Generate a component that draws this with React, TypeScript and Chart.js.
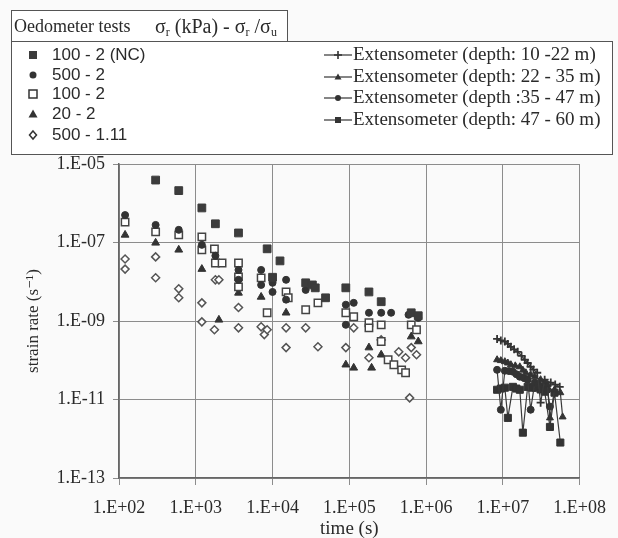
import React, { useEffect, useRef } from "react";
import { Chart, registerables } from "chart.js";

Chart.register(...registerables);

// ---------- tick values ----------
const xTickValues = [1e2, 1e3, 1e4, 1e5, 1e6, 1e7, 1e8];
const yTickValues = [1e-13, 1e-11, 1e-9, 1e-7, 1e-5];

// ---------- oedometer tests: [time (s), strain rate (1/s)] ----------
const oedo100_2NC: [number, number][] = [
  [3.0e2, 3.9e-6], [6.0e2, 2.1e-6], [1.2e3, 7.6e-7], [1.8e3, 3.0e-7], [3.6e3, 1.75e-7],
  [8.5e3, 6.9e-8], [1.25e4, 3.4e-8], [1.0e4, 1.3e-8], [2.7e4, 9.4e-9], [3.3e4, 8.3e-9],
  [3.6e4, 7.0e-9], [4.9e4, 3.9e-9], [9.0e4, 7.0e-9], [1.8e5, 5.5e-9], [2.6e5, 3.1e-9],
  [6.4e5, 1.62e-9], [7.9e5, 1.36e-9],
];
const oedo500_2: [number, number][] = [
  [1.2e2, 5.0e-7], [3.0e2, 2.8e-7], [6.0e2, 2.1e-7], [1.2e3, 8.7e-8], [1.8e3, 4.6e-8],
  [3.6e3, 2.0e-8], [3.6e3, 1.12e-8], [7.1e3, 2.0e-8], [7.1e3, 8.3e-9], [1.0e4, 9.4e-9],
  [1.0e4, 5.5e-9], [1.5e4, 1.12e-8], [1.5e4, 3.5e-9], [2.7e4, 6.2e-9], [9.0e4, 2.6e-9],
  [9.0e4, 8.0e-10], [1.14e5, 2.9e-9], [1.8e5, 1.62e-9], [2.6e5, 1.62e-9], [3.5e5, 1.62e-9],
  [5.9e5, 1.44e-9], [7.9e5, 1.2e-9],
];
const oedo100_2: [number, number][] = [
  [1.2e2, 3.3e-7], [3.0e2, 1.86e-7], [6.0e2, 1.56e-7], [1.2e3, 1.39e-7], [1.2e3, 6.5e-8],
  [1.75e3, 6.9e-8], [1.8e3, 3.0e-8], [2.2e3, 3.0e-8], [3.6e3, 3.0e-8], [3.6e3, 1.33e-8],
  [3.6e3, 7.4e-9], [7.1e3, 1.26e-8], [8.5e3, 1.62e-9], [1.5e4, 5.5e-9], [1.6e4, 3.9e-9],
  [2.7e4, 1.93e-9], [3.9e4, 2.9e-9], [9.0e4, 1.62e-9], [1.14e5, 1.28e-9], [1.8e5, 9.0e-10],
  [1.8e5, 6.7e-10], [2.6e5, 8.0e-10], [2.6e5, 3.0e-10], [3.2e5, 1.03e-10], [3.8e5, 7.7e-11],
  [4.8e5, 5.7e-11], [5.4e5, 4.8e-11], [6.4e5, 8.0e-10], [7.5e5, 6.0e-10],
];
const oedo20_2: [number, number][] = [
  [1.2e2, 1.56e-7], [3.0e2, 9.8e-8], [6.0e2, 6.5e-8], [1.2e3, 2.1e-8], [2.0e3, 1.07e-9],
  [3.6e3, 5.2e-9], [7.1e3, 4.1e-9], [1.5e4, 1.62e-9], [9.0e4, 7.7e-11], [1.14e5, 6.4e-11],
  [1.8e5, 2.1e-10], [1.95e5, 6.4e-11], [2.6e5, 1.38e-10], [6.4e5, 4.0e-10], [7.9e5, 3.0e-10],
];
const oedo500_111: [number, number][] = [
  [1.2e2, 3.8e-8], [1.2e2, 2.1e-8], [3.0e2, 4.3e-8], [3.0e2, 1.26e-8], [6.0e2, 6.6e-9],
  [6.0e2, 3.9e-9], [1.2e3, 2.9e-9], [1.2e3, 9.5e-10], [1.8e3, 1.12e-8], [2.0e3, 1.12e-8],
  [1.75e3, 6.0e-10], [3.6e3, 2.2e-9], [3.6e3, 6.7e-10], [7.1e3, 7.1e-10], [7.8e3, 4.5e-10],
  [8.5e3, 6.0e-10], [1.5e4, 6.7e-10], [1.5e4, 2.1e-10], [2.7e4, 6.7e-10], [3.9e4, 2.2e-10],
  [9.0e4, 2.1e-10], [1.14e5, 6.7e-10], [1.8e5, 1.16e-10], [2.6e5, 3.3e-10], [4.4e5, 1.64e-10],
  [5.4e5, 1.16e-10], [6.4e5, 2.1e-10], [7.5e5, 1.38e-10], [6.1e5, 1.1e-11],
];

// ---------- extensometers ----------
const ext10_22: [number, number][] = [
  [8.4e6, 3.5e-10], [9.4e6, 3.2e-10], [1.06e7, 3.0e-10], [1.16e7, 2.6e-10], [1.27e7, 2.2e-10],
  [1.4e7, 1.9e-10], [1.56e7, 1.64e-10], [1.75e7, 1.3e-10], [1.93e7, 1.03e-10], [2.1e7, 8.5e-11],
  [2.3e7, 6.8e-11], [2.5e7, 5.8e-11], [2.8e7, 4.8e-11], [3.1e7, 8.3e-12], [3.5e7, 3.2e-11],
  [4.2e7, 2.7e-11], [4.8e7, 2.4e-11], [5.5e7, 2.1e-11],
];
const ext22_35: [number, number][] = [
  [8.4e6, 1.03e-10], [9.4e6, 9.8e-11], [1.06e7, 9.2e-11], [1.16e7, 8.5e-11], [1.27e7, 7.7e-11],
  [1.45e7, 7.2e-11], [1.66e7, 6.8e-11], [1.82e7, 5.6e-11], [1.99e7, 4.8e-11], [2.3e7, 4.3e-11],
  [2.6e7, 3.8e-11], [3.1e7, 3.2e-11], [3.5e7, 2.7e-11], [3.8e7, 2.4e-11], [4.1e7, 3.4e-12],
  [4.7e7, 1.77e-11], [5.6e7, 1.49e-11], [6.0e7, 3.6e-12],
];
const ext35_47: [number, number][] = [
  [8.4e6, 5.7e-11], [9.4e6, 5.5e-12], [1.06e7, 5.4e-11], [1.2e7, 5.3e-11], [1.35e7, 5.1e-11],
  [1.5e7, 4.4e-11], [1.66e7, 3.8e-11], [1.9e7, 3.5e-11], [2.1e7, 3.2e-11], [2.3e7, 5.5e-12],
  [2.6e7, 2.7e-11], [2.9e7, 2.4e-11], [3.1e7, 2.1e-11], [3.5e7, 1.9e-11], [3.8e7, 1.77e-11],
  [4.1e7, 6.6e-12],
];
const ext47_60: [number, number][] = [
  [8.4e6, 1.77e-11], [9.4e6, 1.9e-11], [1.06e7, 2.0e-11], [1.16e7, 3.4e-12], [1.35e7, 2.1e-11],
  [1.5e7, 1.9e-11], [1.66e7, 1.77e-11], [1.82e7, 1.43e-12], [2.1e7, 2.1e-11], [2.4e7, 2.0e-11],
  [2.7e7, 2.0e-11], [3.1e7, 1.8e-11], [3.5e7, 1.58e-11], [4.1e7, 2.0e-12], [4.7e7, 1.49e-11],
  [5.6e7, 8.0e-13],
];

const oedoLabels = ["100 - 2 (NC)", "500 - 2", "100 - 2", "20 - 2", "500 - 1.11"];
const extLabels = [
  "Extensometer (depth: 10 -22 m)",
  "Extensometer (depth: 22 - 35 m)",
  "Extensometer (depth :35 - 47 m)",
  "Extensometer (depth: 47 - 60 m)",
];

const SERIF = "'Liberation Serif', 'Times New Roman', 'DejaVu Serif', serif";
const SANS = "'Liberation Sans', Arial, sans-serif";
const INK = "#2a2a2a";
const BG = "#fafafa";

function fmtSci(v: number): string {
  const e = Math.round(Math.log10(v));
  const s = e < 0 ? "-" : "+";
  return "1.E" + s + String(Math.abs(e)).padStart(2, "0");
}

const toXY = (arr: [number, number][]) => arr.map(([x, y]) => ({ x, y }));

function LegendMarker({ kind }: { kind: string }) {
  const c = "#333";
  let shape: React.ReactNode = null;
  if (kind === "rect") shape = <rect x={3} y={3} width={8} height={8} fill="#3c3c3c" />;
  if (kind === "circle") shape = <circle cx={7} cy={7} r={3.5} fill={c} />;
  if (kind === "openRect") shape = <rect x={3} y={3} width={8} height={8} fill="#fff" stroke={c} strokeWidth={1.5} />;
  if (kind === "triangle") shape = <polygon points="7,2.5 11.5,10.5 2.5,10.5" fill={c} />;
  if (kind === "diamond") shape = <polygon points="7,3 10.5,7 7,11 3.5,7" fill="#fff" stroke={c} strokeWidth={1.5} />;
  return (
    <svg width={14} height={14} style={{ position: "absolute", left: -7, top: -7 }}>
      {shape}
    </svg>
  );
}

function ExtMarker({ kind }: { kind: string }) {
  const c = "#333";
  let shape: React.ReactNode = null;
  if (kind === "cross") shape = <path d="M12,8 L20,8 M16,4 L16,12" stroke={c} strokeWidth={1.6} />;
  if (kind === "triangle") shape = <polygon points="16,4.5 19.5,10.5 12.5,10.5" fill={c} />;
  if (kind === "circle") shape = <circle cx={16} cy={8} r={3} fill={c} />;
  if (kind === "rect") shape = <rect x={13} y={5} width={6} height={6} fill={c} />;
  return (
    <svg width={32} height={16} style={{ position: "absolute", left: 0, top: -8 }}>
      <line x1={2} y1={8} x2={30} y2={8} stroke={c} strokeWidth={1.2} />
      {shape}
    </svg>
  );
}

export default function App() {
  const canvasRef = useRef<HTMLCanvasElement | null>(null);

  useEffect(() => {
    const canvas = canvasRef.current;
    if (!canvas) return;
    const pt = (style: string, radius: number, fill: string, stroke: string, bw: number) => ({
      pointStyle: style,
      pointRadius: radius,
      pointBackgroundColor: fill,
      pointBorderColor: stroke,
      pointBorderWidth: bw,
      backgroundColor: fill,
      borderColor: stroke,
      showLine: false,
    });
    const extStyle = (style: string, radius: number) => ({
      pointStyle: style,
      pointRadius: radius,
      pointBackgroundColor: "#333",
      pointBorderColor: "#333",
      pointBorderWidth: style === "cross" ? 1.8 : 1,
      borderColor: "#3a3a3a",
      borderWidth: 1.2,
      showLine: true,
      tension: 0,
    });

    const chart = new Chart(canvas, {
      type: "scatter",
      data: {
        datasets: [
          { label: extLabels[0], data: toXY(ext10_22), ...extStyle("cross", 4) },
          { label: extLabels[1], data: toXY(ext22_35), ...extStyle("triangle", 4) },
          { label: extLabels[2], data: toXY(ext35_47), ...extStyle("circle", 3.5) },
          { label: extLabels[3], data: toXY(ext47_60), ...extStyle("rect", 5) },
          { label: oedoLabels[0], data: toXY(oedo100_2NC), ...pt("rect", 5.5, "#3c3c3c", "#3c3c3c", 1) },
          { label: oedoLabels[1], data: toXY(oedo500_2), ...pt("circle", 3.5, "#333", "#333", 1) },
          { label: oedoLabels[2], data: toXY(oedo100_2), ...pt("rect", 5.2, "#fff", "#444", 1.5) },
          { label: oedoLabels[3], data: toXY(oedo20_2), ...pt("triangle", 4.5, "#333", "#333", 1) },
          { label: oedoLabels[4], data: toXY(oedo500_111), ...pt("rectRot", 4, "#fff", "#555", 1.5) },
        ] as any,
      },
      options: {
        animation: false,
        responsive: false,
        maintainAspectRatio: false,
        layout: { padding: { top: 164, right: 38, left: 0, bottom: 0 } },
        plugins: { legend: { display: false }, tooltip: { enabled: false } },
        scales: {
          x: {
            type: "logarithmic",
            position: "bottom",
            min: 1e2,
            max: 1e8,
            afterBuildTicks: (s: any) => {
              s.ticks = xTickValues.map((v) => ({ value: v }));
            },
            afterFit: (s: any) => {
              s.height = 60;
            },
            ticks: {
              callback: (v: any) => fmtSci(Number(v)),
              font: { family: SERIF, size: 18 },
              color: INK,
              maxRotation: 0,
              autoSkip: false,
              padding: 12,
            },
            grid: { color: "#8c8c8c", lineWidth: 1, tickLength: 7 },
            border: { color: "#666", width: 1.5 },
            title: {
              display: true,
              text: "time (s)",
              font: { family: SERIF, size: 19 },
              color: INK,
              padding: { top: 0, bottom: -2 },
            },
          },
          y: {
            type: "logarithmic",
            position: "left",
            min: 1e-13,
            max: 1e-5,
            afterBuildTicks: (s: any) => {
              s.ticks = yTickValues.map((v) => ({ value: v }));
            },
            afterFit: (s: any) => {
              s.width = 119;
            },
            ticks: {
              callback: (v: any) => fmtSci(Number(v)),
              font: { family: SERIF, size: 18 },
              color: INK,
              autoSkip: false,
              padding: 8,
            },
            grid: { color: "#8c8c8c", lineWidth: 1, tickLength: 6 },
            border: { color: "#666", width: 1.5 },
            title: {
              display: true,
              text: "strain rate (s⁻¹)",
              font: { family: SERIF, size: 17 },
              color: INK,
              padding: { top: 23, bottom: 0 },
            },
          },
        },
      } as any,
    });
    return () => chart.destroy();
  }, []);

  const oedoKinds = ["rect", "circle", "openRect", "triangle", "diamond"];
  const oedoRows = [55, 75, 94, 114, 135];
  const extKinds = ["cross", "triangle", "circle", "rect"];
  const extRows = [55, 77, 98, 120];
  const subStyle: React.CSSProperties = { fontSize: 12, verticalAlign: "-3px" };

  return (
    <div style={{ position: "fixed", left: 0, top: 0, width: 618, height: 538, background: BG, overflow: "hidden" }}>
      <canvas ref={canvasRef} width={618} height={538} style={{ position: "absolute", left: 0, top: 0, width: 618, height: 538 }} />
      {/* title box */}
      <div
        style={{
          position: "absolute", left: 11, top: 10, width: 275, height: 30,
          border: "1px solid #555", background: "#fff", fontFamily: SERIF, fontSize: 18,
          color: INK, whiteSpace: "nowrap", lineHeight: "30px", boxSizing: "content-box",
        }}
      >
        <span style={{ position: "absolute", left: 2, top: 0 }}>Oedometer tests</span>
        <span style={{ position: "absolute", left: 143, top: 0, fontSize: 20 }}>
          σ<sub style={subStyle}>r</sub> (kPa) - σ<sub style={subStyle}>r</sub> /σ<sub style={subStyle}>u</sub>
        </span>
      </div>
      {/* legend box */}
      <div
        style={{
          position: "absolute", left: 11, top: 41, width: 600, height: 112,
          border: "1px solid #555", background: "#fff",
        }}
      />
      {oedoLabels.map((lab, i) => (
        <div key={lab + i} style={{ position: "absolute", left: 33, top: oedoRows[i], width: 0, height: 0 }}>
          <LegendMarker kind={oedoKinds[i]} />
          <span
            style={{
              position: "absolute", left: 19, top: -10, fontFamily: SANS, fontSize: 17,
              color: INK, whiteSpace: "nowrap", lineHeight: "20px",
            }}
          >
            {lab}
          </span>
        </div>
      ))}
      {extLabels.map((lab, i) => (
        <div key={lab} style={{ position: "absolute", left: 322, top: extRows[i], width: 0, height: 0 }}>
          <ExtMarker kind={extKinds[i]} />
          <span
            style={{
              position: "absolute", left: 31, top: -12, fontFamily: SERIF, fontSize: 19,
              color: INK, whiteSpace: "nowrap", lineHeight: "22px",
            }}
          >
            {lab}
          </span>
        </div>
      ))}
    </div>
  );
}
